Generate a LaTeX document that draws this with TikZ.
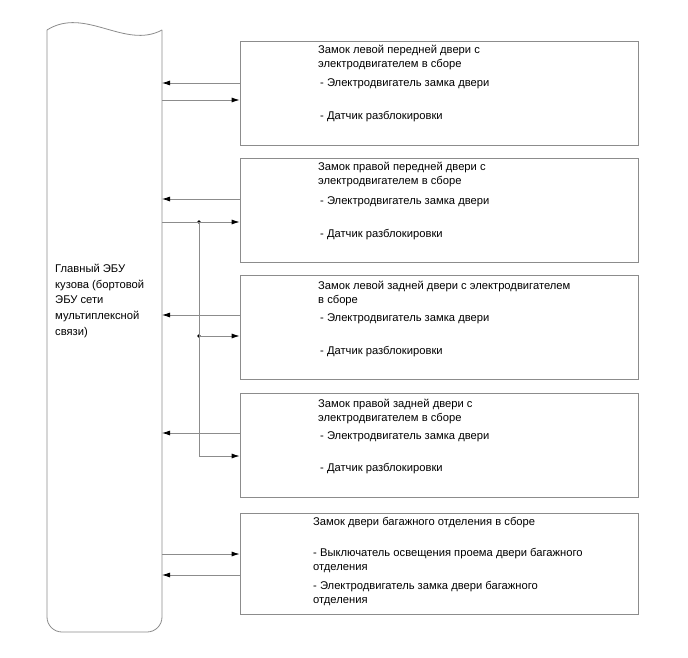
\documentclass[tikz,border=0pt]{standalone}
\usepackage{fontspec}
\setmainfont{Liberation Sans}
\usetikzlibrary{arrows.meta,calc,positioning}
\definecolor{LineClr}{rgb}{0.55,0.55,0.55}

\begin{document}
\begin{tikzpicture}[x=1pt,y=-1pt]
\tikzset{
  blk/.style={draw=LineClr,line width=0.8pt,minimum width=398pt,minimum height=104pt,inner sep=0pt},
  txt/.style={anchor=west,inner sep=0pt,align=left,font=\fontsize{11.2}{14}\selectfont},
  sig/.style={draw=LineClr,line width=0.8pt,-{Latex[length=8pt,width=5pt,color=black]}},
  jn/.style={circle,fill=black,inner sep=0pt,minimum size=3.6pt}
}
\useasboundingbox (0,0) rectangle (688,658);

\draw[LineClr,line width=0.8pt] (47,30) .. controls (85,6) and (125,50) .. (162,30);
\draw[LineClr,line width=0.8pt,rounded corners=15pt] (47,30) -- (47,632) -- (162,632) -- (162,30);
\node[txt,font=\fontsize{11.2}{15.7}\selectfont] (ecu) at (55,301) {Главный ЭБУ\\кузова (бортовой\\ЭБУ сети\\мультиплексной\\связи)};

\node[blk] (b1) at (439,93) {};
\node[blk] (b2) at (439,210) {};
\node[blk] (b3) at (439,327.5) {};
\node[blk] (b4) at (439,445) {};
\node[blk,minimum height=101pt] (b5) at (439,563.5) {};

\node[txt] (t1) at (318,58) {Замок левой передней двери с\\электродвигателем в сборе};
\node[txt] (t1a) at (320,84) {- Электродвигатель замка двери};
\node[txt] (t1b) at (320,117) {- Датчик разблокировки};

\node[txt] (t2) at (318,175) {Замок правой передней двери с\\электродвигателем в сборе};
\node[txt] (t2a) at (320,202) {- Электродвигатель замка двери};
\node[txt] (t2b) at (320,235) {- Датчик разблокировки};

\node[txt] (t3) at (318,294) {Замок левой задней двери с электродвигателем\\в сборе};
\node[txt] (t3a) at (320,319) {- Электродвигатель замка двери};
\node[txt] (t3b) at (320,352) {- Датчик разблокировки};

\node[txt] (t4) at (318,412) {Замок правой задней двери с\\электродвигателем в сборе};
\node[txt] (t4a) at (320,437) {- Электродвигатель замка двери};
\node[txt] (t4b) at (320,469) {- Датчик разблокировки};

\node[txt] (t5) at (313,523) {Замок двери багажного отделения в сборе};
\node[txt] (t5a) at (313,561) {- Выключатель освещения проема двери багажного\\отделения};
\node[txt] (t5b) at (313,594) {- Электродвигатель замка двери багажного\\отделения};

\coordinate (p1) at (162,83);
\coordinate (q1) at (162,100);
\coordinate (p2) at (162,199);
\coordinate (q2) at (162,222);
\coordinate (p3) at (162,315);
\coordinate (p4) at (162,433);
\coordinate (q5) at (162,554);
\coordinate (p5) at (162,575);

\node[jn] (d1) at (199,222) {};
\node[jn] (d2) at (199,336) {};
\coordinate (c4) at (199,456);

\draw[sig] (p1 -| b1.west) -- (p1);
\draw[sig] (q1) -- (q1 -| b1.west);
\draw[sig] (p2 -| b2.west) -- (p2);
\draw[sig] (q2) -- (q2 -| b2.west);
\draw[sig] (p3 -| b3.west) -- (p3);
\draw[sig] (d2.center) -- (d2 -| b3.west);
\draw[sig] (p4 -| b4.west) -- (p4);
\draw[sig] (d1.center) -- (c4) -- (c4 -| b4.west);
\draw[sig] (q5) -- (q5 -| b5.west);
\draw[sig] (p5 -| b5.west) -- (p5);

\end{tikzpicture}
\end{document}
